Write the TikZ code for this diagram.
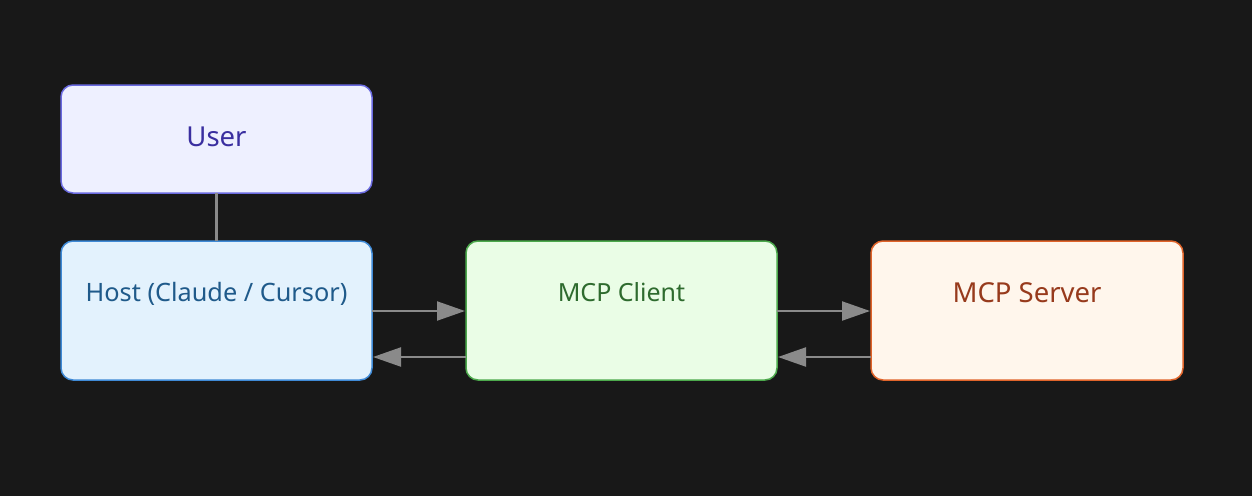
\documentclass[tikz,border=0pt]{standalone}
\usepackage{fontspec}
\setmainfont{Noto Sans}
\usetikzlibrary{arrows.meta}
\definecolor{bg}{HTML}{181818}
\definecolor{edge}{HTML}{8A8A8A}
\definecolor{userfill}{HTML}{EEF0FF}
\definecolor{userdraw}{HTML}{6A6AE0}
\definecolor{usertext}{HTML}{3A2FA0}
\definecolor{hostfill}{HTML}{E3F2FD}
\definecolor{hostdraw}{HTML}{3F8AD6}
\definecolor{hosttext}{HTML}{1F5A8A}
\definecolor{clientfill}{HTML}{EAFDE6}
\definecolor{clientdraw}{HTML}{4CA94C}
\definecolor{clienttext}{HTML}{2E6B2E}
\definecolor{serverfill}{HTML}{FFF6EC}
\definecolor{serverdraw}{HTML}{E0642A}
\definecolor{servertext}{HTML}{973A1C}
\tikzset{
  x=1pt, y=-1pt,
  box/.style={rounded corners=12pt, line width=1.5pt},
  lbl/.style={anchor=base, inner sep=0pt},
  conn/.style={draw=edge, line width=2.2pt},
  arr/.style={conn, -{Triangle[length=28pt,width=19pt]}, shorten >=1pt},
}
\begin{document}
\begin{tikzpicture}
\fill[bg] (0,0) rectangle (1252,496);
\useasboundingbox (0,0) rectangle (1252,496);
% boxes
\draw[box, fill=userfill, draw=userdraw] (61,85) rectangle (372,193);
\node[lbl, text=usertext, font=\fontsize{27.5}{32}\selectfont] (user) at (216.5,146) {User};
\coordinate (userb) at (216.5,193);
\draw[box, fill=hostfill, draw=hostdraw] (61,241) rectangle (372,380);
\node[lbl, text=hosttext, font=\fontsize{25.3}{29}\selectfont] (host) at (216.5,301) {Host (Claude / Cursor)};
\coordinate (hostt) at (216.5,241);
\draw[box, fill=clientfill, draw=clientdraw] (466,241) rectangle (777,380);
\node[lbl, text=clienttext, font=\fontsize{25}{29}\selectfont] (client) at (621.5,301) {MCP Client};
\draw[box, fill=serverfill, draw=serverdraw] (871,241) rectangle (1183,380);
\node[lbl, text=servertext, font=\fontsize{27.5}{32}\selectfont] (server) at (1027,302) {MCP Server};
% anchor coordinates on box edges
\coordinate (hostR1) at (372,311);
\coordinate (hostR2) at (372,357);
\coordinate (clientL1) at (466,311);
\coordinate (clientL2) at (466,357);
\coordinate (clientR1) at (777,311);
\coordinate (clientR2) at (777,357);
\coordinate (serverL1) at (871,311);
\coordinate (serverL2) at (871,357);
% connectors
\draw[conn] (userb) -- (hostt);
\draw[arr] (hostR1) -- (clientL1);
\draw[arr] (clientL2) -- (hostR2);
\draw[arr] (clientR1) -- (serverL1);
\draw[arr] (serverL2) -- (clientR2);
\end{tikzpicture}
\end{document}
